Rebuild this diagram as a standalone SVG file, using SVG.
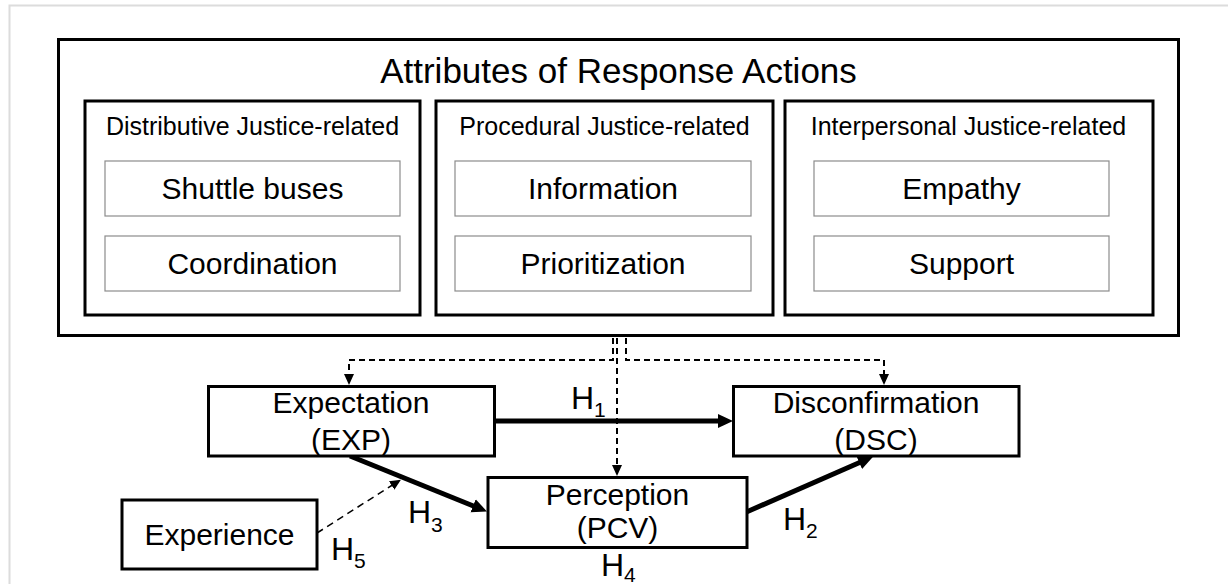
<svg xmlns="http://www.w3.org/2000/svg" width="1228" height="584" viewBox="0 0 1228 584">
  <style>
    text { font-family: "Liberation Sans", Arial, sans-serif; fill: #000; }
    .title { font-size: 35px; text-anchor: middle; }
    .hdr { font-size: 25px; text-anchor: middle; }
    .item { font-size: 30px; text-anchor: middle; }
    .node { font-size: 30px; text-anchor: middle; }
    .h { font-size: 32px; }
    .sub { font-size: 21px; }
    .box { fill: #fff; stroke: #000; stroke-width: 3; }
    .ibox { fill: #fff; stroke: #8c8c8c; stroke-width: 1.2; }
    .thick { fill: none; stroke: #000; stroke-width: 5; }
    .dash { fill: none; stroke: #000; stroke-width: 2; stroke-dasharray: 6 4; }
    .dashthin { fill: none; stroke: #000; stroke-width: 1.5; stroke-dasharray: 7 5; }
  </style>
  <defs>
    <marker id="big" markerUnits="userSpaceOnUse" markerWidth="16" markerHeight="16" refX="1" refY="8" orient="auto" viewBox="0 0 16 16">
      <path d="M0,1 L15,8 L0,15 z" fill="#000"/>
    </marker>
    <marker id="small" markerUnits="userSpaceOnUse" markerWidth="12" markerHeight="12" refX="1" refY="6" orient="auto" viewBox="0 0 12 12">
      <path d="M0,1 L11,6 L0,11 z" fill="#000"/>
    </marker>
  </defs>

  <rect width="1228" height="584" fill="#fff"/>
  <path d="M9.5,584 V5.5 H1228" fill="none" stroke="#dcdcdc" stroke-width="2"/>

  <g id="attributes">
    <rect class="box" x="58.5" y="39.5" width="1120" height="296"/>
    <text class="title" x="618.5" y="83">Attributes of Response Actions</text>
  </g>

  <g id="distributive">
    <rect class="box" x="85" y="101" width="335" height="214"/>
    <text class="hdr" x="252.5" y="135">Distributive Justice-related</text>
  </g>
  <g id="shuttle-buses">
    <rect class="ibox" x="105" y="161" width="295" height="55"/>
    <text class="item" x="252.5" y="199">Shuttle buses</text>
  </g>
  <g id="coordination">
    <rect class="ibox" x="105" y="236" width="295" height="55"/>
    <text class="item" x="252.5" y="274">Coordination</text>
  </g>

  <g id="procedural">
    <rect class="box" x="436" y="101" width="337" height="214"/>
    <text class="hdr" x="604.5" y="135">Procedural Justice-related</text>
  </g>
  <g id="information">
    <rect class="ibox" x="455" y="161" width="296" height="55"/>
    <text class="item" x="603" y="199">Information</text>
  </g>
  <g id="prioritization">
    <rect class="ibox" x="455" y="236" width="296" height="55"/>
    <text class="item" x="603" y="274">Prioritization</text>
  </g>

  <g id="interpersonal">
    <rect class="box" x="785" y="101" width="368" height="214"/>
    <text class="hdr" x="968.5" y="135">Interpersonal Justice-related</text>
  </g>
  <g id="empathy">
    <rect class="ibox" x="814" y="161" width="295" height="55"/>
    <text class="item" x="961.5" y="199">Empathy</text>
  </g>
  <g id="support">
    <rect class="ibox" x="814" y="236" width="295" height="55"/>
    <text class="item" x="961.5" y="274">Support</text>
  </g>

  <g id="connectors">
    <path class="dash" d="M613,338 V360 H349 V375" marker-end="url(#small)"/>
    <path class="dash" d="M617,338 V466" marker-end="url(#small)"/>
    <path class="dash" d="M626,338 V360 H884 V375" marker-end="url(#small)"/>
    <line class="thick" x1="495" y1="421" x2="719" y2="421" marker-end="url(#big)"/>
    <line class="thick" x1="350" y1="456" x2="474" y2="506.2" marker-end="url(#big)"/>
    <line class="thick" x1="747" y1="511.7" x2="860.2" y2="462.3" marker-end="url(#big)"/>
    <line class="dashthin" x1="317" y1="533" x2="392.5" y2="485" marker-end="url(#small)"/>
    <text class="h" x="571" y="409">H<tspan class="sub" dy="8">1</tspan></text>
    <text class="h" x="783" y="530">H<tspan class="sub" dy="8">2</tspan></text>
    <text class="h" x="408" y="523">H<tspan class="sub" dy="9">3</tspan></text>
    <text class="h" x="601" y="576">H<tspan class="sub" dy="6">4</tspan></text>
    <text class="h" x="331" y="560">H<tspan class="sub" dy="8">5</tspan></text>
  </g>

  <g id="expectation">
    <rect class="box" x="208.5" y="386.5" width="286" height="69.5"/>
    <text class="node" x="351" y="413">Expectation</text>
    <text class="node" x="351" y="450">(EXP)</text>
  </g>
  <g id="disconfirmation">
    <rect class="box" x="733.5" y="386.5" width="285.5" height="69.5"/>
    <text class="node" x="876" y="413">Disconfirmation</text>
    <text class="node" x="876" y="450">(DSC)</text>
  </g>
  <g id="perception">
    <rect class="box" x="488" y="477.5" width="259" height="70"/>
    <text class="node" x="617.5" y="505">Perception</text>
    <text class="node" x="617.5" y="538">(PCV)</text>
  </g>
  <g id="experience">
    <rect class="box" x="122" y="500" width="195" height="69"/>
    <text class="node" x="219.5" y="545">Experience</text>
  </g>
</svg>
